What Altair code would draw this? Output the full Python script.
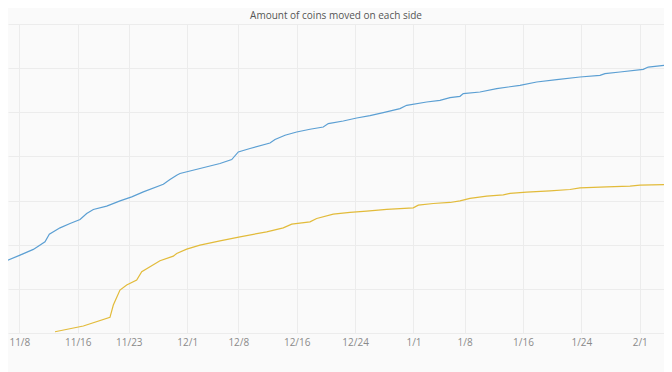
import altair as alt
import pandas as pd

# Days since 2018-11-08 and cumulative amount (in grid units)
blue_day = [-2.64, 0.10, 1.92, 3.52, 4.11, 5.58, 6.95, 8.32, 9.23, 10.14, 11.97, 13.80,
            15.40, 16.99, 19.73, 20.64, 21.56, 22.01, 24.75, 27.49, 29.10, 30.00, 31.60,
            34.34, 35.03, 36.40, 38.00, 39.82, 41.64, 42.33, 44.38, 46.22, 48.04, 49.86,
            52.15, 53.07, 55.81, 57.63, 59.00, 60.37, 60.82, 63.11, 65.40, 68.59, 70.88,
            73.62, 76.81, 79.55, 80.23, 82.29, 85.48, 86.16, 88.68, 89.41]
blue_val = [1.577, 1.765, 1.894, 2.066, 2.240, 2.382, 2.482, 2.572, 2.708, 2.799, 2.873, 2.993,
            3.084, 3.197, 3.371, 3.477, 3.575, 3.613, 3.726, 3.839, 3.930, 4.102, 4.179,
            4.305, 4.382, 4.480, 4.554, 4.615, 4.667, 4.744, 4.803, 4.871, 4.925, 4.993,
            5.084, 5.158, 5.233, 5.271, 5.333, 5.362, 5.423, 5.459, 5.536, 5.611, 5.686,
            5.740, 5.799, 5.837, 5.876, 5.912, 5.973, 6.025, 6.070, 6.138]

yellow_day = [4.89, 8.77, 12.42, 12.88, 13.79, 14.71, 16.08, 16.77, 19.27, 21.10, 21.56,
              22.93, 24.75, 27.49, 30.23, 33.89, 36.16, 37.32, 39.82, 40.74, 43.01, 45.30,
              47.59, 50.33, 53.97, 54.66, 56.71, 59.00, 60.37, 61.74, 64.03, 66.30, 67.22,
              69.50, 72.70, 75.44, 76.81, 80.47, 83.66, 85.03, 89.41]
yellow_val = [0.029, 0.158, 0.355, 0.633, 0.973, 1.086, 1.199, 1.387, 1.636, 1.742, 1.803,
              1.900, 1.991, 2.088, 2.179, 2.292, 2.382, 2.466, 2.518, 2.595, 2.692, 2.731,
              2.760, 2.799, 2.835, 2.896, 2.934, 2.957, 2.993, 3.048, 3.100, 3.129, 3.161,
              3.190, 3.219, 3.251, 3.287, 3.310, 3.326, 3.348, 3.364]

series_names = ["ABC", "SV"]
series_colors = ["#5b9fd3", "#e2bb3a"]

tick_labels = ["2018-11-08", "2018-11-16", "2018-11-23", "2018-12-01", "2018-12-08",
               "2018-12-16", "2018-12-24", "2019-01-01", "2019-01-08", "2019-01-16",
               "2019-01-24", "2019-02-01"]
x_domain_days = [-1.55, 88.32]
y_grid = [0, 1, 2, 3, 4, 5, 6, 7]

start = pd.Timestamp("2018-11-08")


def to_iso(days):
    return [(start + pd.to_timedelta(d, unit="D")).strftime("%Y-%m-%dT%H:%M:%S") for d in days]


df = pd.concat([
    pd.DataFrame({"date": to_iso(blue_day), "coins": blue_val, "side": series_names[0]}),
    pd.DataFrame({"date": to_iso(yellow_day), "coins": yellow_val, "side": series_names[1]}),
])

tick_values = [alt.DateTime(year=int(t[:4]), month=int(t[5:7]), date=int(t[8:10])) for t in tick_labels]
dom = to_iso(x_domain_days)

chart = alt.Chart(df).mark_line(strokeWidth=1.2, clip=True).encode(
    x=alt.X("date:T",
            scale=alt.Scale(domain=dom),
            axis=alt.Axis(values=tick_values, format="%-m/%-d", title=None, ticks=False,
                          domain=False, grid=True, gridColor="#ececec", labelColor="#8a8a8a",
                          labelFontSize=10, labelFont="Open Sans", labelPadding=4,
                          labelOverlap=False, labelFlush=False)),
    y=alt.Y("coins:Q",
            scale=alt.Scale(domain=[0, 7], nice=False, zero=True),
            axis=alt.Axis(values=y_grid, labels=False, ticks=False, domain=False, title=None,
                          grid=True, gridColor="#ececec")),
    color=alt.Color("side:N", scale=alt.Scale(domain=series_names, range=series_colors), legend=None),
).properties(
    width=656,
    height=309,
    autosize=alt.AutoSizeParams(type="none"),
    padding={"left": 0, "top": 16, "right": 0, "bottom": 40},
    background="#fafafa",
    title=alt.TitleParams("Amount of coins moved on each side", fontSize=10, color="#555555",
                          font="Open Sans", fontWeight="normal", anchor="middle", offset=3),
).configure_view(stroke=None)

chart.save("out.html", embed_options={"renderer": "svg", "actions": False})
